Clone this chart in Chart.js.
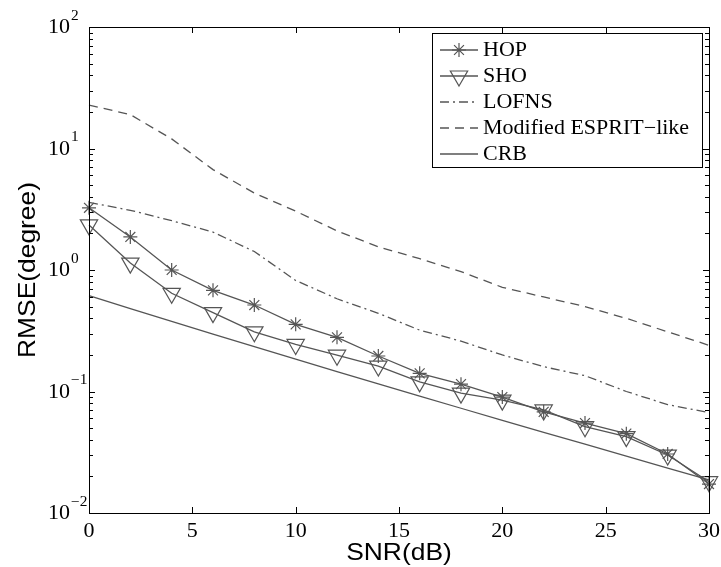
<!DOCTYPE html>
<html lang="en">

<head>
    <meta charset="UTF-8">
    <script src="https://cdn.jsdelivr.net/npm/chart.js@4"></script>
    <title>RMSE vs SNR</title>
    <style>
        body { margin: 0; background: #fff; }
        #wrap { width: 721px; height: 567px; }
    </style>
</head>

<body>
    <div id="wrap"><canvas id="myChart" width="721" height="567"></canvas></div>
</body>

<script type='text/javascript'>

    // SNR values (dB)
    const snr = [0, 2, 4, 6, 8, 10, 12, 14, 16, 18, 20, 22, 24, 26, 28, 30];

    // RMSE (degree)
    const hop = [3.25, 1.87, 1.0, 0.68, 0.515, 0.357, 0.279, 0.196, 0.141, 0.115, 0.090, 0.068, 0.055, 0.045, 0.0306, 0.0173];
    const sho = [2.35, 1.14, 0.643, 0.446, 0.31, 0.244, 0.199, 0.162, 0.12, 0.097, 0.085, 0.0705, 0.0513, 0.0425, 0.030, 0.0181];
    const lofns = [3.6, 3.1, 2.55, 2.05, 1.42, 0.82, 0.58, 0.44, 0.32, 0.26, 0.20, 0.16, 0.135, 0.10, 0.078, 0.067];
    const esprit = [22.8, 19.0, 12.0, 6.7, 4.3, 3.05, 2.1, 1.55, 1.24, 0.97, 0.72, 0.60, 0.50, 0.40, 0.31, 0.24];
    const crb = [0.615, 0.482, 0.378, 0.297, 0.234, 0.1845, 0.1455, 0.1153, 0.0916, 0.0728, 0.0579, 0.0461, 0.0368, 0.0294, 0.0234, 0.0187];

    const xTicks = [0, 5, 10, 15, 20, 25, 30];
    const yDecades = [-2, -1, 0, 1, 2];
    const legendLabels = ['HOP', 'SHO', 'LOFNS', 'Modified ESPRIT\u2212like', 'CRB'];

    const grey = '#555555';
    const serif = '"Liberation Serif", "Times New Roman", serif';
    const sans = '"Liberation Sans", Arial, sans-serif';
    const stretch = 1.1; // the original text is a little wide

    const pts = (ys) => snr.map((x, i) => ({ x: x, y: ys[i] }));

    const series = [
        { label: legendLabels[0], data: pts(hop), style: 'star', dash: [] },
        { label: legendLabels[1], data: pts(sho), style: 'triangle', dash: [] },
        { label: legendLabels[2], data: pts(lofns), style: false, dash: [9, 4, 2, 4] },
        { label: legendLabels[3], data: pts(esprit), style: false, dash: [9, 6] },
        { label: legendLabels[4], data: pts(crb), style: false, dash: [] }
    ];

    const datasets = series.map(s => ({
        label: s.label,
        data: s.data,
        borderColor: grey,
        backgroundColor: 'rgba(0,0,0,0)',
        borderWidth: 1.3,
        borderDash: s.dash,
        pointStyle: s.style || 'circle',
        pointRadius: s.style === 'triangle' ? 10 : (s.style ? 7 : 0),
        pointRotation: s.style === 'triangle' ? 180 : 0,
        pointBorderColor: grey,
        pointBorderWidth: 1.2,
        pointBackgroundColor: 'rgba(0,0,0,0)',
        tension: 0,
        clip: false
    }));

    // text drawn slightly wider along its direction; returns the drawn width
    function wideText(ctx, text, x, y, align) {
        const w = ctx.measureText(text).width * stretch;
        let x0 = x;
        if (align === 'center') x0 = x - w / 2;
        if (align === 'right') x0 = x - w;
        ctx.save();
        ctx.translate(x0, y);
        ctx.scale(stretch, 1);
        ctx.textAlign = 'left';
        ctx.fillText(text, 0, 0);
        ctx.restore();
        return w;
    }

    function drawStar(ctx, x, y, r) {
        ctx.beginPath();
        ctx.moveTo(x - r, y); ctx.lineTo(x + r, y);
        ctx.moveTo(x, y - r); ctx.lineTo(x, y + r);
        const d = r * Math.SQRT1_2;
        ctx.moveTo(x - d, y - d); ctx.lineTo(x + d, y + d);
        ctx.moveTo(x - d, y + d); ctx.lineTo(x + d, y - d);
        ctx.stroke();
    }

    function drawTriDown(ctx, x, y, r) {
        ctx.beginPath();
        ctx.moveTo(x, y + r);
        ctx.lineTo(x + r * Math.sin(Math.PI / 3), y - r / 2);
        ctx.lineTo(x - r * Math.sin(Math.PI / 3), y - r / 2);
        ctx.closePath();
        ctx.stroke();
    }

    const decor = {
        id: 'decor',
        afterDraw(chart) {
            const ctx = chart.ctx;
            const a = chart.chartArea;
            const xs = chart.scales.x, ys = chart.scales.y;
            ctx.save();

            // frame
            ctx.strokeStyle = '#000';
            ctx.lineWidth = 1;
            ctx.setLineDash([]);
            ctx.strokeRect(a.left + 0.5, a.top + 0.5, a.right - a.left, a.bottom - a.top);

            // x ticks (inward, bottom and top)
            ctx.beginPath();
            xTicks.forEach(t => {
                const px = Math.round(xs.getPixelForValue(t)) + 0.5;
                ctx.moveTo(px, a.bottom); ctx.lineTo(px, a.bottom - 6);
                ctx.moveTo(px, a.top); ctx.lineTo(px, a.top + 6);
            });
            // y ticks: decades and minor
            yDecades.forEach(d => {
                for (let k = 1; k <= 9; k++) {
                    if (d === 2 && k > 1) break;
                    const v = k * Math.pow(10, d);
                    const py = Math.round(ys.getPixelForValue(v)) + 0.5;
                    const len = k === 1 ? 6 : 4;
                    ctx.moveTo(a.left, py); ctx.lineTo(a.left + len, py);
                    ctx.moveTo(a.right, py); ctx.lineTo(a.right - len, py);
                }
            });
            ctx.stroke();

            // x tick labels
            ctx.fillStyle = '#000';
            ctx.font = '20px ' + serif;
            ctx.textBaseline = 'middle';
            xTicks.forEach(t => {
                wideText(ctx, String(t), xs.getPixelForValue(t), a.bottom + 19, 'center');
            });

            // y tick labels 10^d
            yDecades.forEach(d => {
                const py = ys.getPixelForValue(Math.pow(10, d));
                ctx.font = '20px ' + serif;
                const w = wideText(ctx, '10', 48, py + 1, 'left');
                ctx.font = '14px ' + serif;
                const exp = d < 0 ? '\u2212' + (-d) : String(d);
                wideText(ctx, exp, 48 + w + 1, py - 11, 'left');
            });

            // axis titles
            ctx.font = '24px ' + sans;
            wideText(ctx, 'SNR(dB)', (a.left + a.right) / 2, 553, 'center');
            ctx.save();
            ctx.translate(28, (a.top + a.bottom) / 2);
            ctx.rotate(-Math.PI / 2);
            wideText(ctx, 'RMSE(degree)', 0, 0, 'center');
            ctx.restore();

            // legend
            const bx = 432, by = 33, bw = 270, bh = 134;
            ctx.fillStyle = '#fff';
            ctx.fillRect(bx, by, bw, bh);
            ctx.strokeStyle = '#000';
            ctx.lineWidth = 1;
            ctx.strokeRect(bx + 0.5, by + 0.5, bw, bh);
            series.forEach((s, i) => {
                const ry = 50 + i * 26;
                ctx.strokeStyle = grey;
                ctx.lineWidth = 1.3;
                ctx.setLineDash(s.dash);
                ctx.beginPath();
                ctx.moveTo(440, ry); ctx.lineTo(478, ry);
                ctx.stroke();
                ctx.setLineDash([]);
                ctx.lineWidth = 1.2;
                if (s.style === 'star') drawStar(ctx, 459, ry, 7);
                if (s.style === 'triangle') drawTriDown(ctx, 459, ry, 10);
                ctx.fillStyle = '#000';
                ctx.font = '20px ' + serif;
                ctx.textBaseline = 'middle';
                wideText(ctx, s.label, 483, ry + 1, 'left');
            });
            ctx.restore();
        }
    };

    const ctx = document.getElementById('myChart').getContext('2d');
    const chart = new Chart(ctx, {
        type: 'line',
        data: { datasets: datasets },
        options: {
            responsive: false,
            animation: false,
            events: [],
            layout: { padding: { left: 89, right: 12, top: 27, bottom: 54 } },
            scales: {
                x: { type: 'linear', min: 0, max: 30, display: false },
                y: { type: 'logarithmic', min: 0.01, max: 100, display: false }
            },
            plugins: {
                legend: { display: false },
                tooltip: { enabled: false }
            }
        },
        plugins: [decor]
    });

</script>

</html>
